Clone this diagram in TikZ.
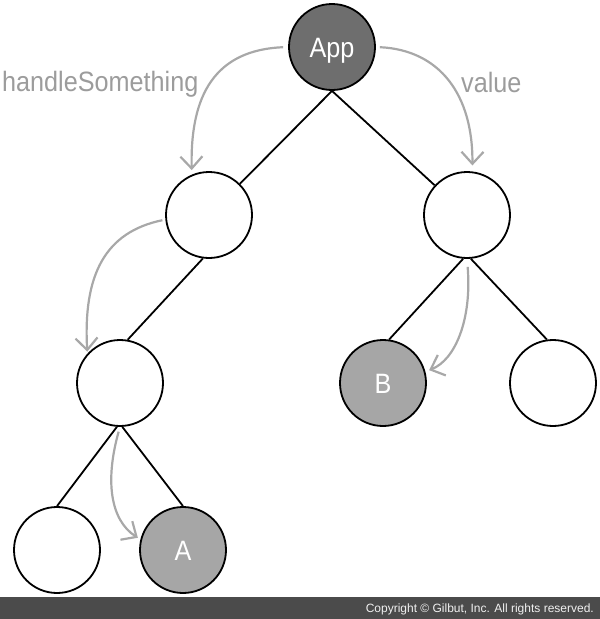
\documentclass[tikz,border=0pt]{standalone}
\usepackage{fontspec}
\setmainfont{Liberation Sans}
\usetikzlibrary{arrows.meta}
\definecolor{appfill}{HTML}{6E6E6E}
\definecolor{leaffill}{HTML}{A6A6A6}
\definecolor{flow}{HTML}{A8A8A8}
\definecolor{lbl}{HTML}{9C9C9C}
\definecolor{barfill}{HTML}{4B4B4B}
\newcommand{\nar}[1]{\scalebox{0.9}[1]{#1}}
\begin{document}
\begin{tikzpicture}[x=1pt,y=-1pt,
  tnode/.style={circle,draw=black,line width=1.8pt,minimum size=86pt,inner sep=0pt,
    fill=white,font=\fontsize{28}{30}\selectfont,text=white,text height=20pt,text depth=0pt},
  treeline/.style={line width=1.8pt,black},
  flowarr/.style={draw=flow,line width=2.2pt,-{Straight Barb[length=12pt,width=22pt]}},
  lab/.style={text=lbl,font=\fontsize{28}{30}\selectfont,anchor=base west,inner sep=0pt}]
\useasboundingbox (0,0) rectangle (600,619);
\fill[barfill] (0,597) rectangle (600,619);
\node[anchor=base east,inner sep=0pt,text=white!94!black,font=\fontsize{12}{14}\selectfont] (copy) at (594,612) {Copyright © Gilbut, Inc. All rights reserved.};

\node[tnode,fill=appfill] (App) at (332,47) {\nar{App}};
\node[tnode] (L1) at (209,215) {};
\node[tnode] (R1) at (467,215) {};
\node[tnode] (L2) at (120,383) {};
\node[tnode,fill=leaffill] (B) at (383,383) {\nar{B}};
\node[tnode] (RR) at (553,383) {};
\node[tnode] (BL) at (57,550) {};
\node[tnode,fill=leaffill] (A) at (183,550) {\nar{A}};

\draw[treeline] (App.south) -- (L1);
\draw[treeline] (App.south) -- (R1);
\draw[treeline] (L1.262) -- (L2.80);
\draw[treeline] (R1.265) -- (B.82);
\draw[treeline] (R1.275) -- (RR.98);
\draw[treeline] (L2.266) -- (BL.north);
\draw[treeline] (L2.273) -- (A.north);

\draw[flowarr,shorten <=5pt,shorten >=4.5pt] (App.west) .. controls (215,50) and (190,95) .. (L1.113);
\draw[flowarr,shorten <=4pt,shorten >=6pt] (App.east) .. controls (440,50) and (473,95) .. (R1.83);
\draw[flowarr,shorten <=3pt,shorten >=2pt] (L1.186) .. controls (105,232) and (83,275) .. (L2.138);
\draw[flowarr,shorten <=8pt,shorten >=4pt] (R1.south) .. controls (472,320) and (455,360) .. (B.15);
\draw[flowarr,shorten <=5pt,shorten >=3pt] (L2.south) .. controls (105,480) and (110,520) .. (A.166);

\node[lab] (hs) at (2,91.5) {\nar{handleSomething}};
\node[lab] (val) at (461,92) {\nar{value}};
\end{tikzpicture}
\end{document}
